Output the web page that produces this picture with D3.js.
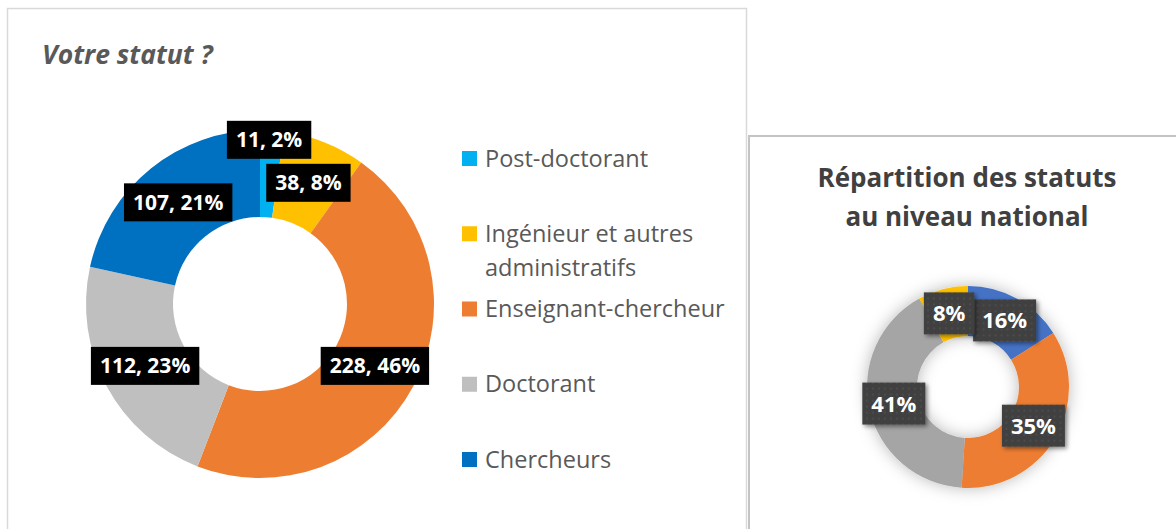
<!DOCTYPE html>
<html>
<head>
<meta charset="utf-8">
<script src="https://cdn.jsdelivr.net/npm/d3@7"></script>
<style>
  body { margin: 0; background: #fff; }
  svg { display: block; font-family: "Open Sans", sans-serif; }
</style>
</head>
<body>
<div id="vis"></div>
<script>
// survey answers (left doughnut)
const statuts = ['Post-doctorant', 'Ingénieur et autres administratifs', 'Enseignant-chercheur', 'Doctorant', 'Chercheurs'];
const effectifs = [11, 38, 228, 112, 107];
const pourcents = [2, 8, 46, 23, 21];
const legendLines = [['Post-doctorant'], ['Ingénieur et autres', 'administratifs'], ['Enseignant-chercheur'], ['Doctorant'], ['Chercheurs']];

// national breakdown (right doughnut)
const statutsNat = ['Chercheurs', 'Enseignant-chercheur', 'Doctorant', 'Ingénieur et autres administratifs'];
const pourcentsNat = [16, 35, 41, 8];

const width = 1176;
const height = 529;

const colorLeft = d3.scaleOrdinal()
  .domain(statuts)
  .range(['#00b0f0', '#ffc000', '#ed7d31', '#bfbfbf', '#0070c0']);

const colorRight = d3.scaleOrdinal()
  .domain(statutsNat)
  .range(['#4472c4', '#ed7d31', '#a5a5a5', '#ffc000']);

const svg = d3.select('#vis').append('svg')
  .attr('width', width)
  .attr('height', height);

const defs = svg.append('defs');
const dots = defs.append('pattern')
  .attr('id', 'dots')
  .attr('width', 6).attr('height', 6)
  .attr('patternUnits', 'userSpaceOnUse');
dots.append('rect').attr('width', 6).attr('height', 6).attr('fill', '#404040');
dots.append('circle').attr('cx', 3).attr('cy', 3).attr('r', 0.8).attr('fill', '#5a5a5a');

defs.append('filter').attr('id', 'glow')
  .attr('x', '-30%').attr('y', '-30%').attr('width', '160%').attr('height', '160%')
  .append('feDropShadow')
  .attr('dx', 0).attr('dy', 0).attr('stdDeviation', 8)
  .attr('flood-color', '#000').attr('flood-opacity', 0.28);

defs.append('filter').attr('id', 'boxShadow')
  .attr('x', '-20%').attr('y', '-20%').attr('width', '150%').attr('height', '150%')
  .append('feDropShadow')
  .attr('dx', 2).attr('dy', 2).attr('stdDeviation', 2)
  .attr('flood-color', '#000').attr('flood-opacity', 0.45);

// chart frames
svg.append('rect')
  .attr('x', 7.5).attr('y', 8.5)
  .attr('width', 739).attr('height', 540)
  .attr('fill', '#fff').attr('stroke', '#d9d9d9').attr('stroke-width', 1.5);

svg.append('rect')
  .attr('x', 749).attr('y', 136)
  .attr('width', 450).attr('height', 420)
  .attr('fill', '#fff').attr('stroke', '#c4c4c4').attr('stroke-width', 2);

// ---------- left: Votre statut ?
svg.append('text')
  .attr('x', 42).attr('y', 64)
  .attr('fill', '#595959')
  .attr('font-size', 26.5)
  .attr('font-weight', 700)
  .attr('font-style', 'italic')
  .text('Votre statut ?');

const pie = d3.pie().sort(null).value((d) => d.value);

const leftData = statuts.map((s, i) => ({ name: s, value: effectifs[i], pct: pourcents[i] }));
const leftArc = d3.arc().innerRadius(87).outerRadius(174);

const gLeft = svg.append('g').attr('transform', 'translate(260,304)');

gLeft.selectAll('.slice')
  .data(pie(leftData))
  .enter().append('path')
  .attr('class', 'slice')
  .attr('d', leftArc)
  .attr('fill', (d) => colorLeft(d.data.name));

// Excel label that was dragged above the ring
const labelNudge = { 'Post-doctorant': -34 };

const leftLabels = gLeft.selectAll('.lbl')
  .data(pie(leftData))
  .enter().append('g')
  .attr('class', 'lbl')
  .attr('transform', (d) => {
    const c = leftArc.centroid(d);
    return `translate(${c[0]},${c[1] + (labelNudge[d.data.name] || 0)})`;
  });

leftLabels.append('rect').attr('fill', '#000');
leftLabels.append('text')
  .attr('text-anchor', 'middle')
  .attr('dy', '0.36em')
  .attr('fill', '#fff')
  .attr('font-size', 21)
  .attr('font-weight', 700)
  .text((d) => `${d.data.value}, ${d.data.pct}%`);

leftLabels.each(function () {
  const t = d3.select(this).select('text').node().getComputedTextLength();
  d3.select(this).select('rect')
    .attr('x', -t / 2 - 9).attr('y', -19)
    .attr('width', t + 18).attr('height', 38);
});

// legend
const legendY = d3.scalePoint()
  .domain(statuts)
  .range([158.5, 459.5]);

const legend = svg.append('g').selectAll('.leg')
  .data(statuts)
  .enter().append('g')
  .attr('class', 'leg')
  .attr('transform', (d) => `translate(462,${legendY(d)})`);

legend.append('rect')
  .attr('x', 0).attr('y', -7.5)
  .attr('width', 15).attr('height', 15)
  .attr('fill', (d) => colorLeft(d));

legend.append('text')
  .attr('fill', '#595959')
  .attr('font-size', 23.5)
  .selectAll('tspan')
  .data((d, i) => legendLines[i].map((l, j) => ({ l, j })))
  .enter().append('tspan')
  .attr('x', 23)
  .attr('y', (d) => d.j * 34)
  .attr('dy', '0.34em')
  .text((d) => d.l);

// ---------- right: national
const rightTitle = svg.append('text')
  .attr('text-anchor', 'middle')
  .attr('fill', '#404040')
  .attr('font-size', 26)
  .attr('font-weight', 700);
rightTitle.append('tspan').attr('x', 967).attr('y', 187).text('Répartition des statuts');
rightTitle.append('tspan').attr('x', 967).attr('y', 226).text('au niveau national');

const rightData = statutsNat.map((s, i) => ({ name: s, value: pourcentsNat[i] }));
const rightArc = d3.arc().innerRadius(51).outerRadius(101);

const gRight = svg.append('g').attr('transform', 'translate(968,387)');

gRight.append('g').attr('filter', 'url(#glow)')
  .selectAll('path')
  .data(pie(rightData))
  .enter().append('path')
  .attr('d', rightArc)
  .attr('fill', (d) => colorRight(d.data.name));

const rightLabels = gRight.selectAll('.lblr')
  .data(pie(rightData))
  .enter().append('g')
  .attr('class', 'lblr')
  .attr('transform', (d) => `translate(${rightArc.centroid(d)})`);

rightLabels.append('rect')
  .attr('fill', 'url(#dots)')
  .attr('filter', 'url(#boxShadow)');
rightLabels.append('text')
  .attr('text-anchor', 'middle')
  .attr('dy', '0.36em')
  .attr('fill', '#fff')
  .attr('font-size', 22)
  .attr('font-weight', 700)
  .text((d) => `${d.data.value}%`);

rightLabels.each(function () {
  const t = d3.select(this).select('text').node().getComputedTextLength();
  d3.select(this).select('rect')
    .attr('x', -t / 2 - 9).attr('y', -21)
    .attr('width', t + 18).attr('height', 42);
});
</script>
</body>
</html>
